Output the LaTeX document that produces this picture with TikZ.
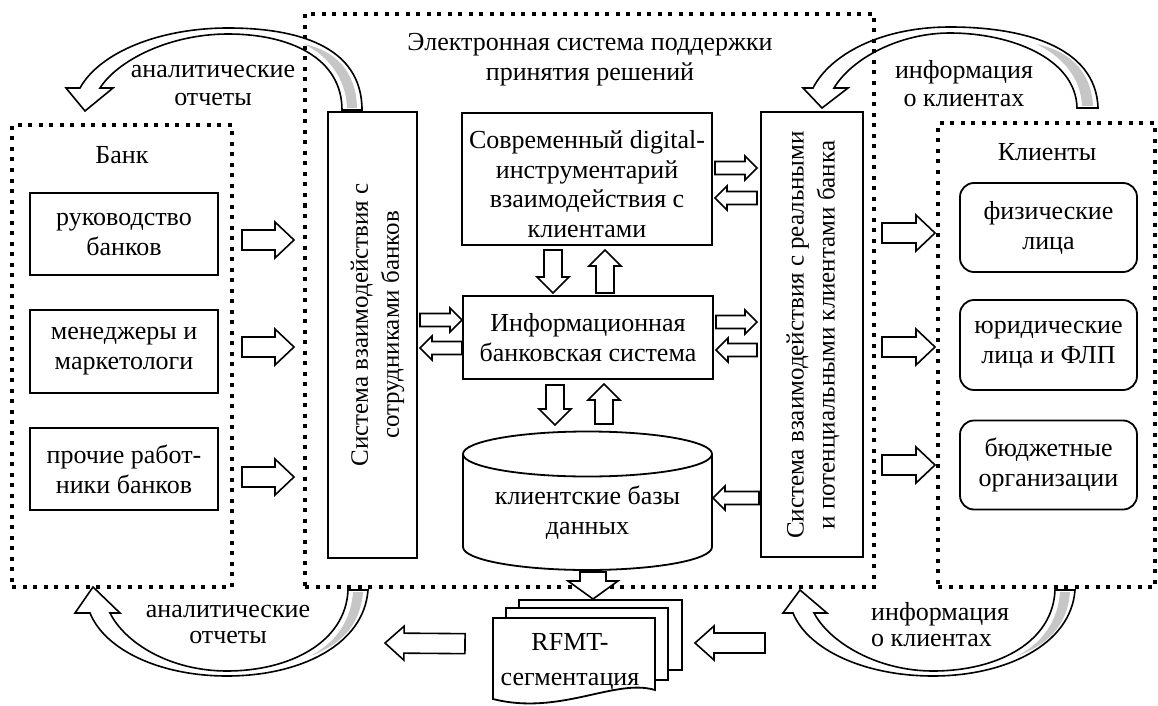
\documentclass[tikz,border=0pt]{standalone}
\usepackage{fontspec}
\setmainfont{Liberation Serif}
\usetikzlibrary{calc}

\tikzset{
  txt/.style={font=\fontsize{26}{30}\selectfont, align=center, inner sep=0pt},
  vtxt/.style={txt, font=\fontsize{25}{31}\selectfont, rotate=90},
  box/.style={draw, line width=1.8pt, fill=white, inner sep=0pt, outer sep=0pt},
  rbox/.style={box, rounded corners=14pt},
  dotbox/.style={draw, line width=4.5pt, dash pattern=on 4pt off 6.5pt, inner sep=0pt, outer sep=0pt},
  barrow/.style={draw, line width=1.6pt, fill=white, line join=miter},
  carrow/.style={draw, line width=1.6pt, line join=miter},
  backface/.style={fill=gray!45},
}

% hollow block arrow from #1 to #2; #3/#4 gaps left at the two ends,
% #5 shaft half width, #6 head half width, #7 head length (all in pt)
\newcommand\blockarrow[7]{%
  \path[barrow] let \p1=#1, \p2=#2,
      \n1={atan2(\y2-\y1,\x2-\x1)},
      \n2={veclen(\x2-\x1,\y2-\y1)-#4pt} in
    [shift={(\p1)}, rotate=\n1]
    (#3pt,-#5pt) -- ({\n2-#7pt},-#5pt) -- ({\n2-#7pt},-#6pt) -- ({\n2+0pt},0pt)
    -- ({\n2-#7pt},#6pt) -- ({\n2-#7pt},#5pt) -- (#3pt,#5pt) -- cycle;}

\begin{document}
\begin{tikzpicture}[x=1pt,y=-1pt]
\useasboundingbox (0,0) rectangle (1158,706);

% ---- curved feedback arrows (under the dotted frames) ----
% top left
\fill[backface] (347,108) .. controls (346,78) and (328,56) .. (304,44)
  .. controls (332,50) and (356,68) .. (357,108) -- cycle;
\draw[carrow] (362,110) .. controls (362,45) and (295,28) .. (228,28)
  .. controls (160,28) and (100,52) .. (80,88) -- (66,88) -- (85,111) -- (113,88) -- (100,88)
  .. controls (118,60) and (170,34) .. (228,34) .. controls (290,34) and (342,58) .. (342,110) -- cycle;
% top right
\fill[backface] (1082,106) .. controls (1081,78) and (1062,56) .. (1036,44)
  .. controls (1066,50) and (1091,68) .. (1093,106) -- cycle;
\draw[carrow] (1098,108) .. controls (1096,45) and (1020,27) .. (950,27)
  .. controls (880,27) and (830,55) .. (813,88) -- (803,88) -- (822,108) -- (848,88) -- (834,88)
  .. controls (852,58) and (900,33) .. (950,33) .. controls (1010,33) and (1076,58) .. (1077,108) -- cycle;
% bottom left
\fill[backface] (353,592) .. controls (351,622) and (334,644) .. (310,656)
  .. controls (338,646) and (360,628) .. (363,592) -- cycle;
\draw[carrow] (368,590) .. controls (364,645) and (300,676) .. (227,676)
  .. controls (160,676) and (105,650) .. (90,613) -- (75,613) -- (93,587) -- (120,613) -- (110,613)
  .. controls (125,643) and (170,671) .. (227,671) .. controls (290,671) and (346,642) .. (348,590) -- cycle;
% bottom right
\fill[backface] (1060,592) .. controls (1058,622) and (1041,644) .. (1017,656)
  .. controls (1045,646) and (1067,628) .. (1070,592) -- cycle;
\draw[carrow] (1075,590) .. controls (1071,645) and (1005,676) .. (933,676)
  .. controls (865,676) and (808,650) .. (793,613) -- (783,613) -- (800,590) -- (827,613) -- (814,613)
  .. controls (830,643) and (878,671) .. (933,671) .. controls (998,671) and (1053,642) .. (1055,590) -- cycle;

\node[txt, font=\fontsize{26}{28}\selectfont] (lblTL) at (213,86) {аналитические\\отчеты};
\node[txt, font=\fontsize{26}{28}\selectfont] (lblTR) at (964,84) {информация\\о клиентах};
\node[txt, font=\fontsize{26}{26}\selectfont] (lblBL) at (228,624.5) {аналитические\\отчеты};
\node[txt, font=\fontsize{26}{26}\selectfont, align=left, anchor=west] (lblBR) at (871,624.5) {информация\\о клиентах};

% ---- dotted frames ----
\node[dotbox, minimum width=569pt, minimum height=573pt] (sys) at (589.5,300.5) {};
\node[dotbox, minimum width=220pt, minimum height=462pt] (bank) at (122,356) {};
\node[dotbox, minimum width=217pt, minimum height=464pt] (cli) at (1046.5,355) {};

\node[txt] (systitle) at (590,60) {Электронная система поддержки\\принятия решений};
\node[txt] (banktitle) at (122,155) {Банк};
\node[txt] (clititle) at (1047,152) {Клиенты};

% ---- bank ----
\node[box, txt, minimum width=188pt, minimum height=82pt] (b1) at (124,234) {руководство\\банков};
\node[box, txt, minimum width=188pt, minimum height=83pt] (b2) at (124,351.5) {менеджеры и\\маркетологи};
\node[box, txt, minimum width=188pt, minimum height=82pt] (b3) at (124,469) {прочие работ-\\ники банков};

% ---- clients ----
\node[rbox, txt, minimum width=177pt, minimum height=89pt] (c1) at (1048.5,227.5) {физические\\лица};
\node[rbox, txt, minimum width=177pt, minimum height=90pt] (c2) at (1048.5,345) {юридические\\лица и ФЛП};
\node[rbox, txt, minimum width=177pt, minimum height=89pt] (c3) at (1048.5,465) {бюджетные\\организации};

% ---- interaction systems ----
\node[box, minimum width=89pt, minimum height=446pt] (sysL) at (372.5,335) {};
\node[vtxt] (sysLtext) at (377.5,325) {Система взаимодействия с\\сотрудниками банков};
\node[box, minimum width=102pt, minimum height=445pt] (sysR) at (812,334.5) {};
\node[vtxt] (sysRtext) at (813,335) {Система взаимодействия с реальными\\и потенциальными клиентами банка};

% ---- centre column ----
\node[box, minimum width=250pt, minimum height=132pt] (top) at (587,179) {};
\node[txt, font=\fontsize{26}{29.5}\selectfont] (toptext) at (587,184) {Современный digital-\\инструментарий\\взаимодействия с\\клиентами};
\node[box, txt, minimum width=250pt, minimum height=83pt] (mid) at (588,337.5) {Информационная\\банковская система};

% database cylinder
\node[minimum width=249pt, minimum height=138.5pt, inner sep=0pt, outer sep=0pt] (db) at (587.5,500.75) {};
\draw[line width=1.8pt] (463,454) -- (463,547) .. controls (463,559.7) and (518.7,570) .. (587.5,570)
  .. controls (656.3,570) and (712,559.7) .. (712,547) -- (712,454);
\draw[line width=1.8pt] (587.5,454) ellipse [x radius=124.5pt, y radius=22.5pt];
\node[txt] (dbtext) at (587.5,513) {клиентские базы\\данных};

% RFMT document stack
\node[box, minimum width=163pt, minimum height=70pt] (rfmtC) at (600.5,635) {};
\node[box, minimum width=162pt, minimum height=72pt] (rfmtB) at (587,644) {};
\path[box] (493,618) -- (655,618) -- (655,690) .. controls (615,678) and (560,716) .. (493,699) -- cycle;
\node[txt, font=\fontsize{26}{35}\selectfont] (rfmt) at (570,662) {RFMT-\\сегментация};

\coordinate (repout) at (385,643);
\coordinate (repin) at (765,643);

% ---- block arrows ----
% bank -> staff system
\blockarrow{($(b1.east)+(0,6)$)}{($(sysL.west|-b1.east)+(0,6)$)}{24}{34}{10}{18}{19}
\blockarrow{($(b2.east)+(0,-4.5)$)}{($(sysL.west|-b2.east)+(0,-4.5)$)}{24}{34}{10}{18}{19}
\blockarrow{($(b3.east)+(0,8)$)}{($(sysL.west|-b3.east)+(0,8)$)}{24}{34}{10}{18}{19}
% system -> clients
\blockarrow{($(sys.east|-c1.west)+(0,5.5)$)}{($(cli.west|-c1.west)+(0,5.5)$)}{8}{3}{10}{18}{19}
\blockarrow{($(sys.east|-c2.west)+(0,2)$)}{($(cli.west|-c2.west)+(0,2)$)}{8}{3}{10}{18}{19}
\blockarrow{(sys.east|-c3.west)}{(cli.west|-c3.west)}{8}{3}{10}{18}{19}
% vertical links in the centre column
\blockarrow{($(top.south)+(-34,0)$)}{($(mid.north)+(-35,0)$)}{5}{3}{9}{16}{16}
\blockarrow{($(mid.north)+(17,0)$)}{($(top.south)+(18,0)$)}{3}{5}{9}{16}{16}
\blockarrow{($(mid.south)+(-33,0)$)}{($(db.north)+(-32.5,0)$)}{6}{6.5}{9}{16}{16}
\blockarrow{($(db.north)+(16.5,0)$)}{($(mid.south)+(16,0)$)}{7.5}{5}{9}{16}{16}
% horizontal links to the interaction systems
\blockarrow{($(sysL.east|-mid.west)+(0,-17.5)$)}{($(mid.west)+(0,-17.5)$)}{3}{1}{6.5}{12}{12}
\blockarrow{($(mid.west)+(0,10.5)$)}{($(sysL.east|-mid.west)+(0,10.5)$)}{1}{3}{6.5}{12}{12}
\blockarrow{($(mid.east)+(0,-15.5)$)}{($(sysR.west|-mid.east)+(0,-15.5)$)}{3}{4}{6.5}{12}{12}
\blockarrow{($(sysR.west|-mid.east)+(0,12.5)$)}{($(mid.east)+(0,12.5)$)}{4}{3}{6.5}{12}{12}
\blockarrow{($(top.east)+(0,-11)$)}{($(sysR.west|-top.east)+(0,-11)$)}{3}{4}{6.5}{12}{12}
\blockarrow{($(sysR.west|-top.east)+(0,19)$)}{($(top.east)+(0,19)$)}{4}{3}{6.5}{12}{12}
\blockarrow{($(sysR.west|-db.east)+(0,-2.75)$)}{($(db.east)+(0,-2.75)$)}{2}{1}{6.5}{12}{12}
% segmentation
\blockarrow{($(db.south)+(5.5,0)$)}{($(rfmtC.north-|db.south)+(5.5,0)$)}{2}{1}{13}{25}{18}
\blockarrow{(rfmtB.west)}{(repout)}{41}{0}{10}{17}{19}
\blockarrow{(repin)}{(rfmtC.east|-repin)}{0}{13}{10}{17}{19}

\end{tikzpicture}
\end{document}
